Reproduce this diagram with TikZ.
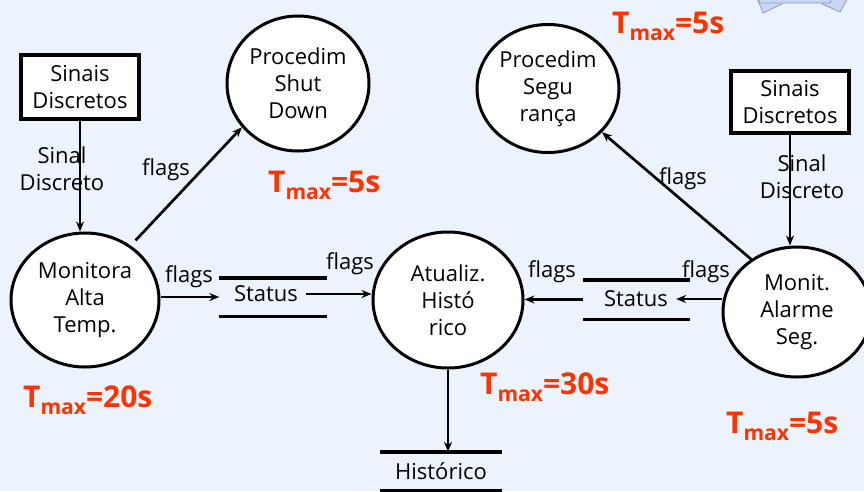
\documentclass[tikz,border=0pt]{standalone}
\usepackage{fontspec}
\setmainfont{Open Sans}
\usetikzlibrary{shapes.geometric,arrows.meta}

\definecolor{bg}{RGB}{237,243,253}
\definecolor{tred}{RGB}{255,51,0}
\definecolor{ribfill}{RGB}{200,214,243}
\definecolor{ribline}{RGB}{140,155,195}

% deadline label: T with a "max" subscript, then the value
\newcommand{\tmaxlabel}[1]{{\fontsize{30}{30}\selectfont\bfseries T\raisebox{-7.5pt}{\fontsize{21}{21}\selectfont max}=#1}}

\begin{document}
\begin{tikzpicture}[x=1pt,y=-1pt,
  every node/.style={font=\fontsize{22}{27}\selectfont},
  proc/.style={ellipse, draw, line width=3pt, fill=white, inner sep=0pt, align=center},
  ext/.style={rectangle, draw, line width=3.2pt, fill=white, inner sep=0pt, align=center},
  store/.style={rectangle, inner sep=0pt},
  storeline/.style={line width=3.4pt},
  flow/.style={line width=2.7pt, -{Stealth[length=10pt,width=8pt]}},
  lbl/.style={inner sep=0pt, align=center},
  tlabel/.style={text=tred, anchor=base west, inner sep=0pt},
  ribbon/.style={fill=ribfill, draw=ribline, line width=0.8pt, line join=round},
]
\fill[bg] (0,0) rectangle (864,491);
\useasboundingbox (0,0) rectangle (864,491);

% banner edge peeking in at the top
\filldraw[ribbon] (757,-2) -- (763,13) -- (782,4) -- (782,-2) -- cycle;
\filldraw[ribbon] (822,-2) -- (822,4) -- (840,12) -- (848,-2) -- cycle;
\filldraw[ribbon, rounded corners=2pt] (759,-6) rectangle (831,3);

% external sources
\node[ext, minimum width=118pt, minimum height=64pt] (sd1) at (80,87) {Sinais\\Discretos};
\node[ext, minimum width=118pt, minimum height=62pt] (sd2) at (790,102) {Sinais\\Discretos};

% processes
\node[proc, minimum width=148pt, minimum height=134pt] (mon) at (85,300) {Monitora\\Alta\\Temp.};
\node[proc, minimum width=142pt, minimum height=135pt] (shut) at (298,83.5) {Procedim\\Shut\\Down};
\node[proc, minimum width=150pt, minimum height=136pt] (atu) at (448,300) {Atualiz.\\Histó\\rico};
\node[proc, minimum width=142pt, minimum height=128pt] (seg) at (548,88.5) {Procedim\\Segu\\rança};
\node[proc, minimum width=148pt, minimum height=130pt] (mon2) at (797,312) {Monit.\\Alarme\\Seg.};

% data stores
\node[store, minimum width=107pt, minimum height=38pt] (store1) at (273,297) {};
\node[inner sep=8pt] (st1) at (266,294) {Status};
\node[store, minimum width=107pt, minimum height=39pt] (store2) at (636.5,299.5) {};
\node[inner sep=8pt] (st2) at (636,299) {Status};
\node[store, minimum width=121pt, minimum height=38pt] (hist) at (441,471) {Histórico};
\foreach \s in {store1,store2,hist}
  \draw[storeline] (\s.north west) -- (\s.north east) (\s.south west) -- (\s.south east);

% flows
\draw[flow] (sd1.south) -- (sd1.south |- mon.north);
\draw[flow] (sd2.south) -- (sd2.south |- mon2.north);
\draw[flow, shorten <=7pt] (mon.50) -- (shut.218);
\draw[flow] (mon2.131) -- (seg.-39);
\draw[flow] (store1.west -| mon.east) -- (store1.west);
\draw[flow] (st1.east) -- (st1.east -| atu.west);
\draw[flow] (st2.east -| mon2.west) -- (st2.east);
\draw[flow] (store2.west) -- (store2.west -| atu.east);
\draw[flow] (atu.south) -- (atu.south |- hist.north);

% flow labels
\node[lbl] (l1) at (62,169) {Sinal\\Discreto};
\node[lbl] (l2) at (802,177) {Sinal\\Discreto};
\node[lbl] (f1) at (166,170) {flags};
\node[lbl] (f2) at (189,277) {flags};
\node[lbl] (f3) at (350,264) {flags};
\node[lbl] (f4) at (552,272) {flags};
\node[lbl] (f5) at (706,272) {flags};
\node[lbl] (f6) at (683,179) {flags};

% deadlines
\node[tlabel] (t1) at (612,33) {\tmaxlabel{5s}};
\node[tlabel] (t2) at (268,192) {\tmaxlabel{5s}};
\node[tlabel] (t3) at (23,407) {\tmaxlabel{20s}};
\node[tlabel] (t4) at (480,394) {\tmaxlabel{30s}};
\node[tlabel] (t5) at (726,433) {\tmaxlabel{5s}};
\end{tikzpicture}
\end{document}
